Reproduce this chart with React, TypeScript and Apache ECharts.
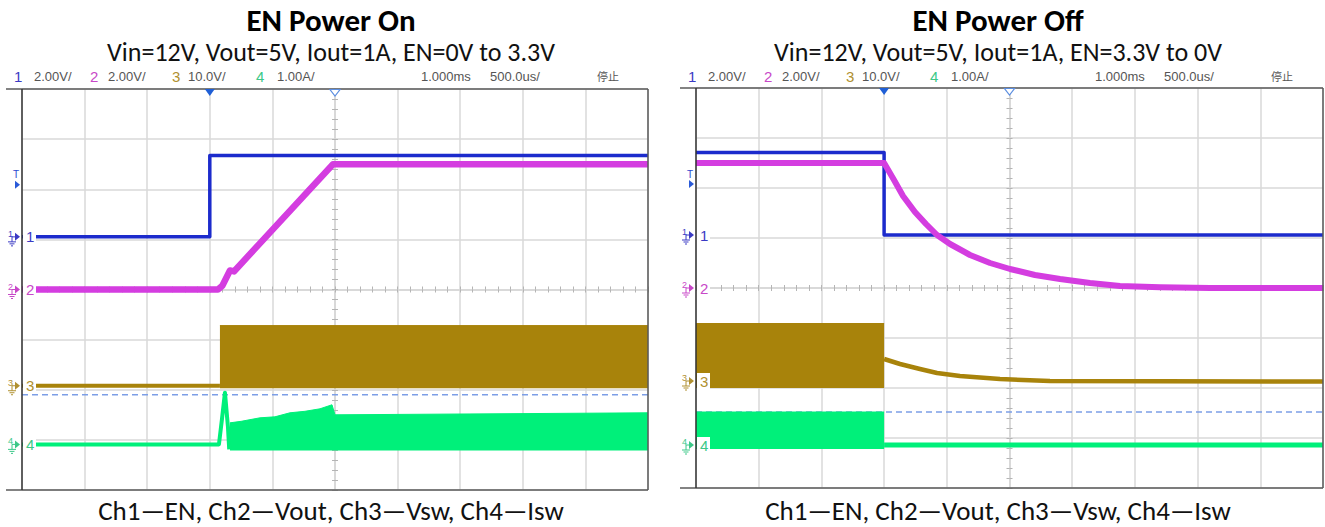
import React, { useEffect, useRef } from "react";
import * as echarts from "echarts";

// ---------- texts ----------
const panelTitles = ["EN Power On", "EN Power Off"];
const panelSubtitles = [
  "Vin=12V, Vout=5V, Iout=1A, EN=0V to 3.3V",
  "Vin=12V, Vout=5V, Iout=1A, EN=3.3V to 0V",
];
const captionText = "Ch1—EN, Ch2—Vout, Ch3—Vsw, Ch4—Isw";
const channelNumbers = ["1", "2", "3", "4"];
const channelScaleLabels = ["2.00V/", "2.00V/", "10.0V/", "1.00A/"];
const delayLabel = "1.000ms";
const timebaseLabel = "500.0us/";
const runStateLabel = "停止";

// ---------- scope settings ----------
const channelScales = [2, 2, 10, 1]; // units per division
const timeMin = -1.5; // ms relative to trigger
const timeMax = 3.5;
const timeStep = 0.5;
const divMin = 0;
const divMax = 8;
const triggerTime = 0;
const delayTime = 1.0;

// channel ground positions (divisions from the bottom of the screen)
const onGroundDiv = [5.05, 4.0, 2.08, 0.91];
const offGroundDiv = [5.06, 4.0, 2.14, 0.86];
const triggerLevelDiv = [6.09, 6.08];
const cursorLevelDiv = [1.9, 1.52];

// ---------- EN power on (time in ms, values in V / A) ----------
const onEnT = [-1.5, 0, 0, 3.5];
const onEnV = [0, 0, 3.25, 3.25];
const onVoutT = [-1.5, 0.065, 0.1, 0.137, 0.161, 0.193, 0.984, 3.5];
const onVoutV = [0, 0, 0.15, 0.52, 0.76, 0.72, 5.0, 5.0];
const onVswIdleT = [-1.5, 0.081];
const onVswIdleV = [0, 0];
const onVswBandT = [0.081, 3.5];
const onVswBandHi = [12.0, 12.0];
const onVswBandLo = -0.5;
const onIswIdleT = [-1.5, 0.073, 0.097, 0.121, 0.145, 0.155];
const onIswIdleV = [0, 0, 0.5, 1.03, 0.35, -0.1];
const onIswBandT = [0.161, 0.25, 0.4, 0.52, 0.64, 0.76, 0.88, 0.976, 1.0, 3.5];
const onIswBandHi = [0.43, 0.46, 0.53, 0.55, 0.63, 0.66, 0.71, 0.79, 0.59, 0.63];
const onIswBandLo = -0.12;

// ---------- EN power off ----------
const offEnT = [-1.5, 0, 0, 3.5];
const offEnV = [3.3, 3.3, 0, 0];
const offVoutT = [-1.5, 0, 0.079, 0.151, 0.246, 0.334, 0.422, 0.526, 0.685, 0.845, 1.004, 1.203, 1.403, 1.642, 1.881, 2.2, 2.6, 3.5];
const offVoutV = [5.0, 5.0, 4.32, 3.68, 3.04, 2.56, 2.12, 1.76, 1.32, 1.0, 0.76, 0.52, 0.36, 0.2, 0.08, 0.03, 0, 0];
const offVswBandT = [-1.5, 0];
const offVswBandHi = [11.5, 11.5];
const offVswBandLo = -1.4;
const offVswTailT = [0, 0.127, 0.286, 0.422, 0.605, 0.924, 1.323, 3.5];
const offVswTailV = [4.4, 3.4, 2.4, 1.6, 1.0, 0.4, 0, -0.1];
const offIswBandT = [-1.5, 0];
const offIswBandHi = [0.66, 0.66];
const offIswBandLo = -0.08;
const offIswTailT = [0, 3.5];
const offIswTailV = [0, 0];

// ---------- styling ----------
const traceColors = ["#1c2bcc", "#d43de0", "#a8830b", "#00f07a"];
const labelColors = ["#3a3ac4", "#c848c8", "#b09030", "#3cc888"];
const gridColor = "#d9d9d9";
const tickColor = "#b5b5b5";
const frameColor = "#5a5a5a";
const fontFamily = "Carlito, Lato, 'Noto Sans', sans-serif";

const geoms = [
  { left: 22, top: 89, width: 626, height: 401, frameLeft: 6, textCenter: 331 },
  { left: 696, top: 88, width: 627, height: 400, frameLeft: 680, textCenter: 998 },
];
const headerDx = [-8, 12, 68, 86, 150, 166, 234, 255, 399, 468, 575];

const toPts = (ts: number[], vs: number[], ground: number, scale: number) =>
  ts.map((t, i) => [t, ground + vs[i] / scale]);

function trace(p: number, data: number[][], color: string, width: number, z: number, dashed = false) {
  return {
    type: "line",
    xAxisIndex: p * 3,
    yAxisIndex: p * 3,
    data,
    symbol: "none",
    showSymbol: false,
    silent: true,
    z,
    lineStyle: { color, width, type: dashed ? [6, 4] : "solid", cap: "butt", join: "round" },
    itemStyle: { color },
  };
}
function band(p: number, data: number[][], origin: number, color: string, z: number) {
  return {
    type: "line",
    xAxisIndex: p * 3,
    yAxisIndex: p * 3,
    data,
    symbol: "none",
    showSymbol: false,
    silent: true,
    z,
    lineStyle: { color, width: 1 },
    itemStyle: { color },
    areaStyle: { color, opacity: 1, origin },
  };
}

function buildOption() {
  const grid: any[] = [];
  const xAxis: any[] = [];
  const yAxis: any[] = [];
  geoms.forEach((g, p) => {
    for (let k = 0; k < 3; k++) {
      grid.push({ left: g.left, top: g.top, width: g.width, height: g.height, containLabel: false });
    }
    xAxis.push({
      gridIndex: p * 3, type: "value", min: timeMin, max: timeMax, interval: timeStep,
      axisLine: { show: false }, axisTick: { show: false }, axisLabel: { show: false },
      splitLine: { show: true, lineStyle: { color: gridColor, width: 1.5 } },
    });
    yAxis.push({
      gridIndex: p * 3, type: "value", min: divMin, max: divMax, interval: 1,
      axisLine: { show: false }, axisTick: { show: false }, axisLabel: { show: false },
      splitLine: { show: true, lineStyle: { color: gridColor, width: 1.5 } },
    });
    ["bottom", "top"].forEach((pos, k) => {
      xAxis.push({
        gridIndex: p * 3 + 1 + k, type: "value", min: -5, max: 5, interval: 1, position: pos,
        axisLine: { show: true, onZero: true, lineStyle: { color: gridColor, width: 1.5 } },
        axisTick: { show: true, inside: true, length: 3, lineStyle: { color: tickColor } },
        minorTick: { show: true, splitNumber: 5, length: 3, lineStyle: { color: tickColor } },
        axisLabel: { show: false }, splitLine: { show: false },
      });
    });
    ["left", "right"].forEach((pos, k) => {
      yAxis.push({
        gridIndex: p * 3 + 1 + k, type: "value", min: -4, max: 4, interval: 1, position: pos,
        axisLine: { show: true, onZero: true, lineStyle: { color: gridColor, width: 1.5 } },
        axisTick: { show: true, inside: true, length: 3, lineStyle: { color: tickColor } },
        minorTick: { show: true, splitNumber: 5, length: 3, lineStyle: { color: tickColor } },
        axisLabel: { show: false }, splitLine: { show: false },
      });
    });
  });

  const [c1, c2, c3, c4] = traceColors;
  const series: any[] = [
    // power on
    trace(0, [[timeMin, cursorLevelDiv[0]], [timeMax, cursorLevelDiv[0]]], "#7c9ee6", 1.5, 1, true),
    band(0, toPts(onIswBandT, onIswBandHi, onGroundDiv[3], channelScales[3]), onGroundDiv[3] + onIswBandLo / channelScales[3], c4, 3),
    trace(0, toPts(onIswIdleT, onIswIdleV, onGroundDiv[3], channelScales[3]), c4, 4, 3),
    trace(0, toPts(onVswIdleT, onVswIdleV, onGroundDiv[2], channelScales[2]), c3, 4, 4),
    band(0, toPts(onVswBandT, onVswBandHi, onGroundDiv[2], channelScales[2]), onGroundDiv[2] + onVswBandLo / channelScales[2], c3, 4),
    trace(0, toPts(onVoutT, onVoutV, onGroundDiv[1], channelScales[1]), c2, 6.5, 5),
    trace(0, toPts(onEnT, onEnV, onGroundDiv[0], channelScales[0]), c1, 3.5, 6),
    // power off
    trace(1, [[timeMin, cursorLevelDiv[1]], [timeMax, cursorLevelDiv[1]]], "#7c9ee6", 1.5, 1, true),
    band(1, toPts(offIswBandT, offIswBandHi, offGroundDiv[3], channelScales[3]), offGroundDiv[3] + offIswBandLo / channelScales[3], c4, 3),
    trace(1, toPts(offIswTailT, offIswTailV, offGroundDiv[3], channelScales[3]), c4, 5, 3),
    band(1, toPts(offVswBandT, offVswBandHi, offGroundDiv[2], channelScales[2]), offGroundDiv[2] + offVswBandLo / channelScales[2], c3, 4),
    trace(1, toPts(offVswTailT, offVswTailV, offGroundDiv[2], channelScales[2]), c3, 4.5, 4),
    trace(1, toPts(offEnT, offEnV, offGroundDiv[0], channelScales[0]), c1, 3.5, 5),
    trace(1, toPts(offVoutT, offVoutV, offGroundDiv[1], channelScales[1]), c2, 6, 6),
  ];

  return {
    animation: false,
    backgroundColor: "#ffffff",
    grid,
    xAxis,
    yAxis,
    series,
  };
}

function txt(x: number, y: number, text: string, size: number, fill: string, align = "left", weight = "normal", family = fontFamily) {
  return {
    type: "text",
    x,
    y,
    z: 100,
    silent: true,
    style: {
      text,
      fill,
      fontSize: size,
      fontFamily: family,
      fontWeight: weight,
      align,
      textAlign: align,
      verticalAlign: "middle",
      textVerticalAlign: "middle",
    },
  };
}
function seg(x1: number, y1: number, x2: number, y2: number, stroke: string, lw: number) {
  return { type: "line", z: 90, silent: true, shape: { x1, y1, x2, y2 }, style: { stroke, lineWidth: lw } };
}

function buildGraphic(chart: any) {
  const els: any[] = [];
  const hdrFont = "'Liberation Sans', Arial, sans-serif";
  geoms.forEach((g, p) => {
    const px = (t: number, d: number) => chart.convertToPixel({ gridIndex: p * 3 }, [t, d]) as number[];
    const [gl, gTop] = px(timeMin, divMax);
    const [gr, gBot] = px(timeMax, divMin);
    // titles
    els.push(txt(g.textCenter, 20, panelTitles[p], 31, "#000", "center", "bold"));
    els.push(txt(g.textCenter, 52, panelSubtitles[p], 26, "#111", "center"));
    els.push(txt(g.textCenter, 510, captionText, 27, "#111", "center"));
    // header
    const hdr = [
      [channelNumbers[0], labelColors[0]], [channelScaleLabels[0], "#555"],
      [channelNumbers[1], labelColors[1]], [channelScaleLabels[1], "#555"],
      [channelNumbers[2], labelColors[2]], [channelScaleLabels[2], "#555"],
      [channelNumbers[3], labelColors[3]], [channelScaleLabels[3], "#555"],
      [delayLabel, "#555"], [timebaseLabel, "#555"], [runStateLabel, "#555"],
    ];
    hdr.forEach(([t, c], i) => {
      const isNum = i < 8 && i % 2 === 0;
      const size = i === 10 ? 11 : isNum ? 15 : 13;
      els.push(txt(gl + headerDx[i], 76, t, size, c, "left", "normal", i === 10 ? "'Noto Sans CJK SC', sans-serif" : hdrFont));
    });
    // frame
    els.push(seg(g.frameLeft, gTop, gr, gTop, frameColor, 1.5));
    els.push(seg(g.frameLeft, gBot, gr, gBot, frameColor, 1.5));
    els.push(seg(gr, gTop, gr, gBot, frameColor, 1.5));
    els.push(seg(gl, gTop, gl, gBot, "#333", 1.5));
    // trigger / delay markers on top edge
    const [tx] = px(triggerTime, divMax);
    const [dx] = px(delayTime, divMax);
    els.push({ type: "polygon", z: 95, silent: true, shape: { points: [[tx - 5, gTop], [tx + 5, gTop], [tx, gTop + 7]] }, style: { fill: "#1f5fd6" } });
    els.push({ type: "polygon", z: 95, silent: true, shape: { points: [[dx - 5, gTop + 0.5], [dx + 5, gTop + 0.5], [dx, gTop + 7]] }, style: { fill: "#fff", stroke: "#5c8ee0", lineWidth: 1.2 } });
    // trigger level marker
    const [, ty] = px(timeMin, triggerLevelDiv[p]);
    els.push(txt(gl - 6, ty - 10, "T", 10, "#2a4ad0", "center", "normal", hdrFont));
    els.push({ type: "polygon", z: 95, silent: true, shape: { points: [[gl - 7, ty - 4], [gl - 7, ty + 4], [gl - 2, ty]] }, style: { fill: "#2a5ad8" } });
    // channel ground markers
    const grounds = p === 0 ? onGroundDiv : offGroundDiv;
    grounds.forEach((gd, ci) => {
      const [, gy] = px(timeMin, gd);
      const col = labelColors[ci];
      els.push({ type: "rect", z: 92, silent: true, shape: { x: gl + 1, y: gy - 8, width: 13, height: 16 }, style: { fill: "#fff" } });
      els.push(txt(gl + 4, gy, channelNumbers[ci], 15, col, "left", "normal", hdrFont));
      els.push(txt(gl - 14, gy - 3, channelNumbers[ci], 9, col, "left", "normal", hdrFont));
      els.push({ type: "polygon", z: 95, silent: true, shape: { points: [[gl - 7, gy - 4], [gl - 7, gy + 4], [gl - 2, gy]] }, style: { fill: col } });
      els.push(seg(gl - 10, gy, gl - 7, gy, col, 1));
      els.push(seg(gl - 10, gy, gl - 10, gy + 5, col, 1));
      els.push(seg(gl - 14, gy + 5, gl - 6, gy + 5, col, 1));
      els.push(seg(gl - 12.5, gy + 7, gl - 7.5, gy + 7, col, 1));
      els.push(seg(gl - 11, gy + 9, gl - 9, gy + 9, col, 1));
    });
  });
  return els;
}

export default function App() {
  const ref = useRef<HTMLDivElement>(null);
  useEffect(() => {
    if (!ref.current) return;
    const chart = echarts.init(ref.current, null, { renderer: "svg" });
    chart.setOption(buildOption() as any);
    chart.setOption({ graphic: { elements: buildGraphic(chart) } } as any);
    return () => chart.dispose();
  }, []);
  return (
    <div
      ref={ref}
      style={{ position: "absolute", left: 0, top: 0, width: 1325, height: 527, background: "#fff" }}
    />
  );
}
